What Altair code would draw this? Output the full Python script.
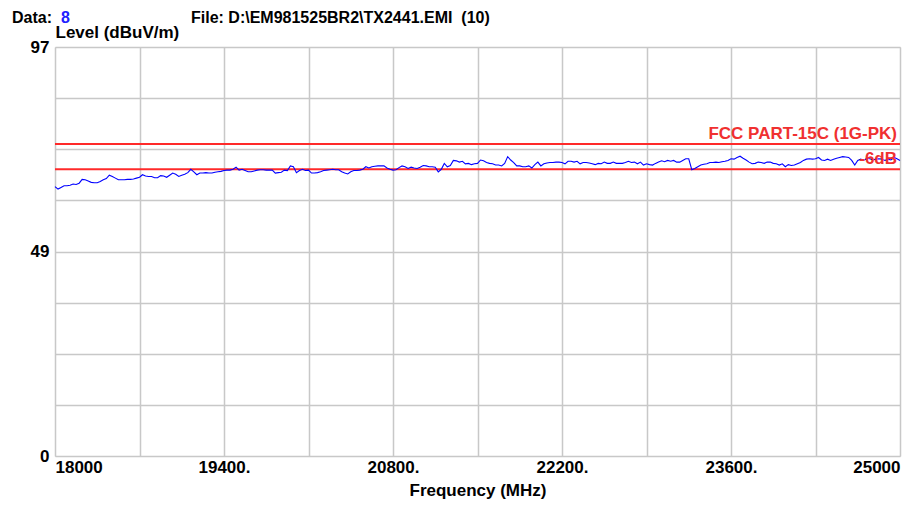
import altair as alt
import pandas as pd

# ---- data ----
freq_start = 18000
freq_step = 25  # MHz between sweep points
levels = [
    63.9, 63.3, 63.7, 64.1, 64.1, 64.2, 64.5, 64.4, 64.7, 65.6, 65.5, 65.2,
    64.9, 64.8, 64.8, 65.1, 65.5, 65.8, 66.6, 66.3, 65.9, 65.5, 65.5, 65.5,
    65.6, 65.6, 65.7, 65.9, 66.1, 66.7, 66.4, 66.3, 66.3, 66.0, 66.0, 66.5,
    66.4, 66.1, 66.6, 67.1, 66.8, 66.3, 66.6, 66.8, 67.2, 68.0, 67.4, 66.7,
    67.1, 67.1, 67.2, 67.1, 67.1, 67.3, 67.4, 67.5, 67.7, 67.8, 67.8, 68.0,
    68.5, 67.8, 68.0, 67.7, 67.4, 67.4, 67.6, 67.8, 67.9, 67.9, 67.8, 67.8,
    67.8, 67.1, 67.2, 67.3, 67.8, 67.7, 68.8, 68.6, 67.2, 67.7, 68.0, 67.7,
    67.8, 67.1, 67.1, 67.2, 67.4, 67.7, 67.8, 67.9, 68.0, 67.9, 67.9, 67.4,
    67.1, 66.9, 67.4, 67.7, 67.7, 67.8, 68.0, 68.6, 68.3, 68.6, 68.7, 68.8,
    68.8, 68.8, 68.3, 68.0, 67.8, 67.9, 68.4, 68.8, 68.6, 68.2, 68.5, 68.3,
    68.2, 68.5, 68.9, 68.8, 68.6, 68.6, 68.5, 67.4, 68.0, 69.4, 68.6, 68.9,
    70.1, 70.0, 69.7, 69.9, 69.3, 69.4, 69.1, 69.3, 69.4, 70.2,
    70.0, 69.6, 69.4, 69.3, 69.0, 69.0, 68.8, 69.4, 71.0, 70.2, 69.6, 68.8,
    68.8, 68.6, 68.6, 68.8, 68.3, 69.1, 69.7, 68.8, 69.3, 69.5, 69.6, 69.6,
    69.7, 69.7, 69.6, 69.3, 69.9, 69.9, 69.7, 69.9, 69.3, 69.6, 69.6, 69.5,
    69.3, 69.1, 69.4, 69.3, 69.7, 69.4, 69.4, 69.7, 69.4, 69.4, 69.4, 69.6,
    69.9, 69.6, 69.7, 69.3, 69.7, 69.0, 69.3, 69.1, 69.0, 69.4, 69.7, 70.0,
    69.8, 70.1, 69.9, 70.1, 69.7, 69.7, 70.1, 70.5, 70.5, 67.9, 68.2, 68.6,
    69.0, 69.2, 69.3, 69.6, 69.6, 69.7, 69.6, 69.8, 69.9, 70.1, 70.5, 70.4,
    70.8, 71.1, 70.6, 70.2, 69.7, 69.3, 69.4, 69.7, 69.6, 69.4, 69.7, 69.7,
    69.4, 69.3, 69.0, 69.3, 68.6, 69.1, 68.9, 69.0, 69.3, 69.6, 70.1, 70.4,
    70.5, 70.4, 70.5, 70.8, 70.2, 70.1, 70.4, 70.1, 70.4, 70.6, 70.8, 71.0,
    70.9, 70.8, 70.1, 69.0, 70.1, 70.4, 70.1, 70.6, 70.5, 70.2, 70.4, 70.5,
    70.4, 70.1, 70.4, 70.2, 70.8, 70.5, 70.1,
]
freqs = [freq_start + freq_step * i for i in range(len(levels))]

limit_labels = ["FCC PART-15C (1G-PK)", "-6dB"]
limit_levels = [74, 68]

x_domain = [18000, 25000]
y_domain = [0, 97]
x_grid = list(range(18000, 25001, 700))
y_grid = [i * 97 / 8 for i in range(9)]

header_data_label = "Data:"
header_data_value = "8"
header_file = "File: D:\\EM981525BR2\\TX2441.EMI\u00a0\u00a0(10)"

FONT = "Liberation Sans"
FS = 17
HFS = 16

trace_df = pd.DataFrame({"freq": freqs, "level": levels})
limit_df = pd.DataFrame({"label": limit_labels, "level": limit_levels})
one = pd.DataFrame({"a": [0]})

x_scale = alt.Scale(domain=x_domain, nice=False, zero=False)
y_scale = alt.Scale(domain=y_domain, nice=False, zero=False)

x_axis = alt.Axis(
    values=x_grid,
    labelExpr="(datum.value - 18000) % 1400 != 0 ? '' : (datum.value == 18000 || datum.value == 25000 ? format(datum.value, 'd') : format(datum.value, 'd') + '.')",
    grid=True, gridColor="#c8c8c8", gridWidth=1.5,
    ticks=False, domain=False,
    labelFont=FONT, labelFontSize=FS, labelFontWeight="bold", labelColor="black",
    labelPadding=3, labelFlush=True, labelOverlap=False,
    title="Frequency (MHz)", titleFont=FONT, titleFontSize=FS, titleFontWeight="bold",
    titleColor="black", titleBaseline="alphabetic", titleY=39,
)
y_axis = alt.Axis(
    values=y_grid,
    labelExpr="datum.value == 0 ? '0' : (abs(datum.value - 48.5) < 0.01 ? '49' : (abs(datum.value - 97) < 0.01 ? '97' : ''))",
    grid=True, gridColor="#c8c8c8", gridWidth=1.5,
    ticks=False, domain=False,
    labelFont=FONT, labelFontSize=FS, labelFontWeight="bold", labelColor="black",
    labelPadding=6, labelOverlap=False,
    title="Level (dBuV/m)", titleFont=FONT, titleFontSize=FS, titleFontWeight="bold",
    titleColor="black", titleAngle=0, titleAlign="left", titleBaseline="alphabetic",
    titleX=0, titleY=-10,
)

trace = alt.Chart(trace_df).mark_line(color="#0000ff", strokeWidth=1.1).encode(
    x=alt.X("freq:Q", scale=x_scale, axis=x_axis),
    y=alt.Y("level:Q", scale=y_scale, axis=y_axis),
)

rules = alt.Chart(limit_df).mark_rule(color="#ff2a2a", strokeWidth=2).encode(
    y=alt.Y("level:Q", scale=y_scale),
)

limit_text = alt.Chart(limit_df).mark_text(
    align="right", baseline="alphabetic", dy=-5, color="#f03030",
    font=FONT, fontSize=FS, fontWeight="bold",
).encode(
    x=alt.value(842),
    y=alt.Y("level:Q", scale=y_scale),
    text="label:N",
)

def header(txt, xpos, color):
    return alt.Chart(one).mark_text(
        align="left", baseline="alphabetic", color=color,
        font=FONT, fontSize=HFS, fontWeight="bold",
    ).encode(x=alt.value(xpos), y=alt.value(-24), text=alt.value(txt))

chart = alt.layer(
    rules, trace, limit_text,
    header(header_data_label, -43, "black"),
    header(header_data_value, 6, "#2020ff"),
    header(header_file, 136, "black"),
).properties(
    width=845, height=409,
    autosize=alt.AutoSizeParams(type="none"),
    padding={"left": 47, "top": 39, "right": 9, "bottom": 45},
).configure_view(
    stroke="#303030", strokeWidth=2,
).configure(background="white")

chart.save("out.html", embed_options={"renderer": "svg", "actions": False})
